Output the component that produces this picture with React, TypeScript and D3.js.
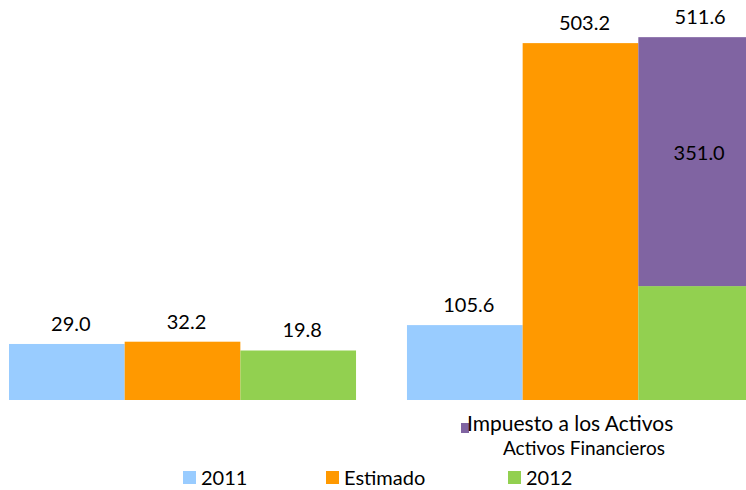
import React from "react";
import * as d3 from "d3";

const groups = ["G1", "G2"];
const seriesNames = ["2011", "Estimado", "2012"];
const seriesColors = ["#99CCFF", "#FF9900", "#92D050"];
const values2011 = [29.0, 105.6];
const valuesEstimado = [32.2, 503.2];
const values2012 = [19.8, 160.6];
const valuesActivos = [0, 351.0];
const totals2012 = [19.8, 511.6];
const activosColor = "#8064A2";
const activosLabel = ["Impuesto a los Activos", "Activos Financieros"];
// left group is drawn on an axis whose minimum sits below zero
const axisMin = [-50, 0];

const W = 746;
const H = 490;
const FONT = "Lato, 'Open Sans', sans-serif";

export default function App() {
  const x0 = d3.scaleBand<string>().domain(groups).range([9, 754]).paddingInner(0.128).paddingOuter(0);
  const x1 = d3.scaleBand<string>().domain(seriesNames).range([0, x0.bandwidth()]);
  const yFor = (gi: number) =>
    d3.scaleLinear().domain([axisMin[gi], axisMin[gi] + 564]).range([400, 0]);

  const seriesVals = [values2011, valuesEstimado, values2012];
  const bars: React.ReactNode[] = [];
  const labels: React.ReactNode[] = [];

  groups.forEach((g, gi) => {
    const y = yFor(gi);
    seriesNames.forEach((s, si) => {
      const v = seriesVals[si][gi];
      const x = (x0(g) as number) + (x1(s) as number);
      const bw = x1.bandwidth();
      bars.push(
        <rect key={`b-${g}-${s}`} x={x} y={y(v)} width={bw} height={y(axisMin[gi]) - y(v)} fill={seriesColors[si]} />
      );
      if (si === 2 && valuesActivos[gi] > 0) {
        const top = v + valuesActivos[gi];
        bars.push(
          <rect key={`a-${g}`} x={x} y={y(top)} width={bw} height={y(v) - y(top)} fill={activosColor} />
        );
        labels.push(
          <text key={`al-${g}`} x={x + bw / 2 + 3} y={(y(top) + y(v)) / 2 - 2} textAnchor="middle" fontSize={20} fontFamily={FONT} fill="#000">
            {valuesActivos[gi].toFixed(1)}
          </text>
        );
      }
      const total = si === 2 ? totals2012[gi] : v;
      labels.push(
        <text key={`l-${g}-${s}`} x={x + bw / 2 + 4} y={y(total) - 13} textAnchor="middle" fontSize={20} fontFamily={FONT} fill="#000">
          {total.toFixed(1)}
        </text>
      );
    });
  });

  const legendX = [183, 326, 508];

  return (
    <svg width={W} height={H} style={{ position: "absolute", left: 0, top: 0, background: "#fff" }}>
      {bars}
      {labels}
      <rect x={461} y={423} width={8} height={10} fill={activosColor} />
      <text x={467} y={431} fontSize={21} fontFamily={FONT} fill="#000">{activosLabel[0]}</text>
      <text x={503} y={455} fontSize={19} fontFamily={FONT} fill="#000">{activosLabel[1]}</text>
      {seriesNames.map((s, i) => (
        <g key={`lg-${s}`}>
          <rect x={legendX[i]} y={471} width={13} height={13} fill={seriesColors[i]} />
          <text x={legendX[i] + 18} y={485} fontSize={20} fontFamily={FONT} fill="#000">{s}</text>
        </g>
      ))}
    </svg>
  );
}
